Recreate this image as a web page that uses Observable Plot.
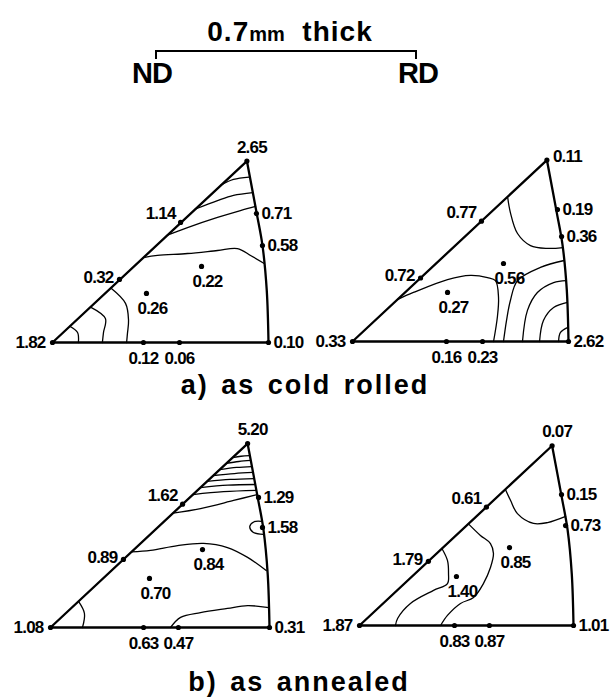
<!DOCTYPE html>
<html><head><meta charset="utf-8">
<script src="https://cdn.jsdelivr.net/npm/d3@7"></script>
<script src="https://cdn.jsdelivr.net/npm/@observablehq/plot@0.6"></script>
<style>
body{margin:0;background:#fff;}
#page{position:relative;width:615px;height:697px;overflow:hidden;font-family:"Liberation Sans",Arial,sans-serif;color:#000;}
.abs{position:absolute;white-space:nowrap;}
</style></head><body><div id="page"></div>
<script>
// ---------- texts ----------
const titleMain = "0.7";
const titleUnit = "mm";
const titleRest = "thick";
const columnLabels = ["ND", "RD"];
const rowCaptions = ["a) as cold rolled", "b) as annealed"];

// ---------- triangle frame (u along 001→101, v upward; base = 1) ----------
const frameCorner = [[0.9, 0.84], [0, 0], [1, 0]];
const frameArc = [[1, 0], [0.992, 0.24], [0.972, 0.45], [0.945, 0.6], [0.9, 0.84]];

// point order: 001, base1, base2, 101, arc-low, arc-high, 111, edge-high, edge-low, inner-low, inner-high
// ---------- a) as cold rolled, ND ----------
const aNDValues = ["1.82","0.12","0.06","0.10","0.58","0.71","2.65","1.14","0.32","0.26","0.22"];
const aNDU = [0, 0.421, 0.588, 1, 0.972, 0.944, 0.9, 0.593, 0.31, 0.435, 0.69];
const aNDV = [0, 0, 0, 0, 0.449, 0.597, 0.84, 0.556, 0.292, 0.227, 0.352];
const aNDContours = [
  [[0.778,0.728],[0.838,0.755],[0.91,0.766]],
  [[0.662,0.618],[0.764,0.657],[0.838,0.681],[0.927,0.694]],
  [[0.532,0.497],[0.625,0.532],[0.764,0.579],[0.870,0.611],[0.94,0.63]],
  [[0.421,0.393],[0.486,0.403],[0.625,0.412],[0.764,0.426],[0.856,0.435],[0.917,0.403],[0.98,0.366]],
  [[0.27,0.252],[0.338,0.181],[0.352,0.102],[0.347,0.042],[0.343,0]],
  [[0.176,0.164],[0.245,0.111],[0.236,0.046],[0.231,0]],
  [[0.08,0.075],[0.116,0.046],[0.12,0]]
];

// ---------- a) as cold rolled, RD ----------
const aRDValues = ["0.33","0.16","0.23","2.62","0.36","0.19","0.11","0.77","0.72","0.27","0.56"];
const aRDU = [0, 0.435, 0.602, 1, 0.968, 0.949, 0.9, 0.597, 0.315, 0.44, 0.699];
const aRDV = [0, 0, 0, 0, 0.486, 0.611, 0.84, 0.557, 0.294, 0.227, 0.361];
const aRDContours = [
  [[0.718,0.67],[0.731,0.597],[0.764,0.5],[0.824,0.444],[0.903,0.431],[0.975,0.435]],
  [[0.208,0.194],[0.282,0.227],[0.44,0.287],[0.546,0.306],[0.625,0.296],[0.662,0.282],[0.676,0.204],[0.671,0.116],[0.653,0]],
  [[0.699,0],[0.713,0.097],[0.731,0.19],[0.764,0.282],[0.87,0.343],[0.98,0.375]],
  [[0.787,0],[0.81,0.144],[0.856,0.227],[0.931,0.273],[0.99,0.282]],
  [[0.866,0],[0.884,0.097],[0.931,0.157],[0.995,0.181]],
  [[0.954,0],[0.963,0.042],[0.998,0.065]]
];

// ---------- b) as annealed, ND ----------
const bNDValues = ["1.08","0.63","0.47","0.31","1.58","1.29","5.20","1.62","0.89","0.70","0.84"];
const bNDU = [0, 0.425, 0.584, 1, 0.968, 0.95, 0.9, 0.603, 0.333, 0.452, 0.694];
const bNDV = [0, 0, 0, 0, 0.457, 0.594, 0.84, 0.563, 0.311, 0.224, 0.356];
const bNDContours = [
  [[0.832,0.776],[0.87,0.782],[0.91,0.785]],
  [[0.803,0.749],[0.86,0.758],[0.914,0.763]],
  [[0.773,0.721],[0.85,0.731],[0.919,0.735]],
  [[0.744,0.694],[0.84,0.703],[0.925,0.708]],
  [[0.715,0.667],[0.82,0.676],[0.93,0.680]],
  [[0.685,0.639],[0.81,0.650],[0.935,0.653]],
  [[0.651,0.607],[0.79,0.620],[0.94,0.626]],
  [[0.56,0.522],[0.685,0.543],[0.836,0.580],[0.943,0.607]],
  [[0.962,0.485],[0.93,0.483],[0.91,0.462],[0.925,0.435],[0.972,0.425]],
  [[0.37,0.345],[0.457,0.352],[0.58,0.374],[0.699,0.384],[0.808,0.365],[0.9,0.32],[0.985,0.26]],
  [[0.548,0],[0.594,0.046],[0.685,0.068],[0.808,0.087],[0.9,0.1],[0.997,0.091]],
  [[0.128,0.119],[0.155,0.064],[0.146,0]]
];

// ---------- b) as annealed, RD ----------
const bRDValues = ["1.87","0.83","0.87","1.01","0.73","0.15","0.07","0.61","1.79","1.40","0.85"];
const bRDU = [0, 0.444, 0.607, 1, 0.963, 0.944, 0.9, 0.593, 0.322, 0.453, 0.701];
const bRDV = [0, 0, 0, 0, 0.467, 0.612, 0.84, 0.553, 0.300, 0.229, 0.364];
const bRDContours = [
  [[0.682,0.636],[0.706,0.584],[0.738,0.523],[0.813,0.477],[0.879,0.481],[0.963,0.51]],
  [[0.509,0.475],[0.565,0.421],[0.612,0.383],[0.626,0.336],[0.612,0.271],[0.579,0.196],[0.533,0.131],[0.472,0.103],[0.411,0.047],[0.379,0]],
  [[0.385,0.36],[0.411,0.304],[0.416,0.243],[0.411,0.196],[0.346,0.164],[0.238,0.103],[0.178,0.033],[0.168,0]]
];

// ---------- layout ----------
const panelData = [
  {values: aNDValues, u: aNDU, v: aNDV, contours: aNDContours},
  {values: aRDValues, u: aRDU, v: aRDV, contours: aRDContours},
  {values: bNDValues, u: bNDU, v: bNDV, contours: bNDContours},
  {values: bRDValues, u: bRDU, v: bRDV, contours: bRDContours}
];
const panelLayout = [
  {left: 0,   top: 132, width: 305, ox: 52,  oy: 342, scale: 216, apex: "top"},
  {left: 300, top: 131, width: 315, ox: 352, oy: 341, scale: 216, apex: "topRight"},
  {left: 0,   top: 417, width: 305, ox: 50,  oy: 627, scale: 219, apex: "top"},
  {left: 300, top: 415, width: 315, ox: 359, oy: 625, scale: 214, apex: "top"}
];
const labelStyle = {
  left:      {textAnchor: "end",    dx: -7, dy: 0},
  below:     {textAnchor: "middle", dx: 0,  dy: 16},
  right:     {textAnchor: "start",  dx: 5,  dy: 0},
  top:       {textAnchor: "middle", dx: 5,  dy: -14},
  topRight:  {textAnchor: "start",  dx: 6,  dy: -4},
  upperLeft: {textAnchor: "end",    dx: -5, dy: -9},
  lowerLeft: {textAnchor: "end",    dx: -6, dy: -2},
  inner:     {textAnchor: "middle", dx: 6,  dy: 15}
};
const PANEL_H = 235;
const FONT = "'Liberation Sans', Arial, sans-serif";

const page = document.getElementById("page");

panelData.forEach((d, i) => {
  const L = panelLayout[i];
  const placeOf = ["left","below","below","right","right","right", L.apex, "upperLeft","lowerLeft","inner","inner"];
  const pts = d.values.map((val, k) => ({label: val, u: d.u[k], v: d.v[k], place: placeOf[k]}));
  const contourRows = d.contours.flatMap((c, j) => c.map(([u, v]) => ({u, v, id: j})));
  const corner = frameCorner.map(([u, v]) => ({u, v}));
  const arc = frameArc.map(([u, v]) => ({u, v}));
  const textMarks = Object.entries(labelStyle).map(([key, s]) =>
    Plot.text(pts.filter(p => p.place === key), {
      x: "u", y: "v", text: "label", textAnchor: s.textAnchor, dx: s.dx, dy: s.dy,
      fontSize: 17, fill: "black", fontWeight: "bold"
    })
  );
  const chart = Plot.plot({
    width: L.width,
    height: PANEL_H,
    margin: 0,
    x: {domain: [0, 1], range: [L.ox - L.left, L.ox - L.left + L.scale], axis: null},
    y: {domain: [0, 1], range: [L.oy - L.top, L.oy - L.top - L.scale], axis: null},
    style: {fontFamily: FONT, background: "none", overflow: "visible", letterSpacing: "-0.8px"},
    marks: [
      Plot.line(contourRows, {x: "u", y: "v", z: "id", curve: "catmull-rom", stroke: "black", strokeWidth: 1.3}),
      Plot.line(corner, {x: "u", y: "v", stroke: "black", strokeWidth: 2.3, strokeLinejoin: "miter"}),
      Plot.line(arc, {x: "u", y: "v", curve: "catmull-rom", stroke: "black", strokeWidth: 2.3}),
      Plot.dot(pts, {x: "u", y: "v", r: 2.6, fill: "black"}),
      ...textMarks
    ]
  });
  const wrap = document.createElement("div");
  wrap.className = "abs";
  wrap.style.left = L.left + "px";
  wrap.style.top = L.top + "px";
  wrap.style.width = L.width + "px";
  wrap.style.height = PANEL_H + "px";
  wrap.appendChild(chart);
  page.appendChild(wrap);
});

// ---------- header ----------
function addText(html, css) {
  const el = document.createElement("div");
  el.className = "abs";
  el.innerHTML = html;
  Object.assign(el.style, css);
  page.appendChild(el);
  return el;
}
addText(`${titleMain}<span style="font-size:20px;letter-spacing:0">${titleUnit}</span>&nbsp; ${titleRest}`,
  {left: "190px", top: "18px", width: "200px", textAlign: "center", fontSize: "28px", lineHeight: "28px", letterSpacing: "1px", fontWeight: "bold"});
const bracket = document.createElement("div");
bracket.className = "abs";
Object.assign(bracket.style, {left: "155px", top: "50px", width: "258px", height: "7px",
  borderTop: "2px solid #000", borderLeft: "2px solid #000", borderRight: "2px solid #000"});
page.appendChild(bracket);
addText(columnLabels[0], {left: "132px", top: "59px", fontSize: "29px", lineHeight: "29px", fontWeight: "bold", letterSpacing: "-1px"});
addText(columnLabels[1], {left: "398px", top: "59px", fontSize: "29px", lineHeight: "29px", fontWeight: "bold", letterSpacing: "-1px"});

// ---------- captions ----------
addText(rowCaptions[0], {left: "105px", top: "372px", width: "400px", textAlign: "center", fontSize: "27px", lineHeight: "27px", letterSpacing: "2px", wordSpacing: "3px", fontWeight: "bold"});
addText(rowCaptions[1], {left: "99px", top: "669px", width: "400px", textAlign: "center", fontSize: "27px", lineHeight: "27px", letterSpacing: "2px", wordSpacing: "3px", fontWeight: "bold"});
</script></body></html>
